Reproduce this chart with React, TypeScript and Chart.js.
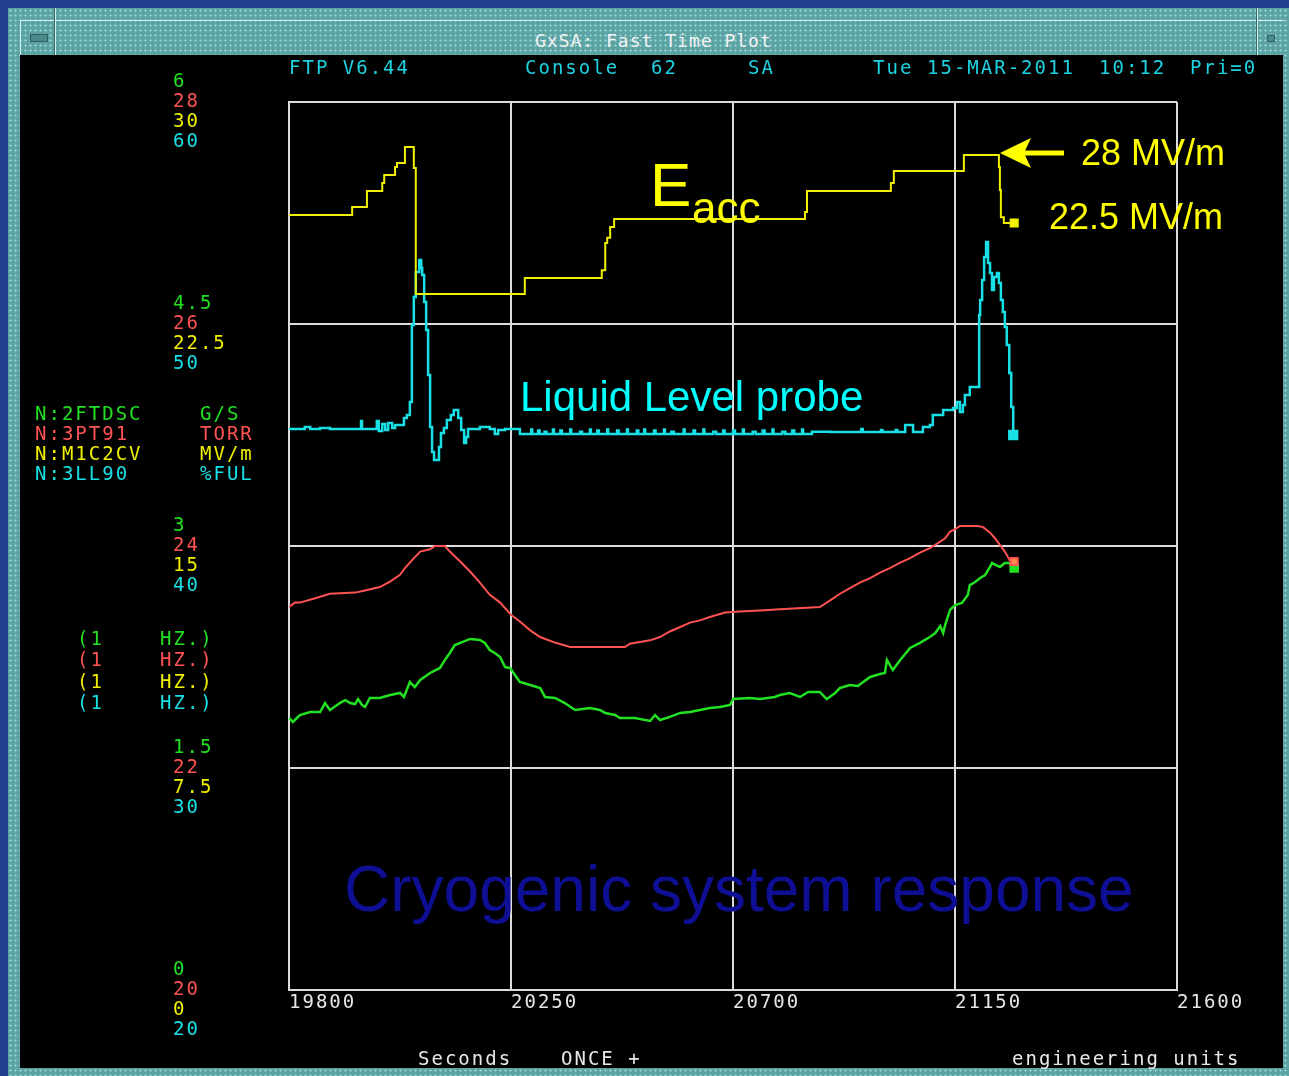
import React, { useEffect, useRef } from "react";
import { Chart, registerables } from "chart.js";

Chart.register(...registerables);

// ---------- DATA ----------
const timeTicks = [19800, 20250, 20700, 21150, 21600];

const greenTicks = ["6", "4.5", "3", "1.5", "0"];
const redTicks = ["28", "26", "24", "22", "20"];
const yellowTicks = ["30", "22.5", "15", "7.5", "0"];
const cyanTicks = ["60", "50", "40", "30", "20"];

const channelNames = ["N:2FTDSC", "N:3PT91", "N:M1C2CV", "N:3LL90"];
const channelUnits = ["G/S", "TORR", "MV/m", "%FUL"];

// Yellow: accelerating gradient, MV/m (0..30)
const eaccTime = [19800, 19928, 19958, 19989, 19993, 20015, 20019, 20035, 20053, 20057, 20278, 20434, 20441, 20445, 20451, 20459, 20846, 20850, 21020, 21026, 21168, 21239, 21241, 21243, 21249, 21270];
const eaccValue = [26.18, 26.45, 26.99, 27.26, 27.53, 27.8, 27.94, 28.48, 27.77, 23.51, 24.05, 24.32, 25.24, 25.41, 25.78, 26.05, 26.28, 26.99, 27.26, 27.67, 28.21, 27.8, 27.03, 26.11, 25.91, 25.91];

// Cyan: liquid level, %FUL (20..60)
const levelTime = [
  19800, 19822, 19832, 19843, 19863, 19883, 19944, 19946, 19948, 19976, 19978, 19982, 19989, 19995, 20001, 20009, 20015, 20025, 20033, 20039,
  20045, 20049, 20053, 20057, 20064, 20068, 20070, 20074, 20078, 20082, 20086, 20090, 20094, 20100, 20104, 20108, 20114, 20120, 20128, 20134,
  20143, 20149, 20155, 20159, 20163, 20187, 20207, 20217, 20224, 20238, 20264, 20268,
  20290, 20291, 20293, 20305, 20308, 20318, 20322, 20335, 20337, 20350, 20353, 20370, 20372, 20390, 20394, 20410, 20412, 20425, 20428, 20445,
  20447, 20465, 20468, 20485, 20487, 20505, 20508, 20520, 20522, 20540, 20543, 20560, 20562, 20575, 20580, 20600, 20602, 20620, 20623, 20640,
  20642, 20660, 20666, 20680, 20683, 20700, 20704, 20720, 20722, 20740, 20746, 20760, 20764, 20780, 20782, 20800, 20806, 20820, 20824, 20840,
  20842, 20860, 20870, 20897, 20960, 20963, 21000, 21003, 21030, 21033,
  21049, 21065, 21085, 21099, 21105, 21126, 21146, 21154, 21160, 21166, 21170, 21180, 21195, 21199, 21201, 21205, 21209, 21213, 21215, 21217,
  21221, 21225, 21229, 21235, 21239, 21243, 21247, 21251, 21255, 21260, 21264, 21268,
];
const levelValue = [
  45.27, 45.27, 45.36, 45.27, 45.32, 45.27, 45.27, 45.63, 45.27, 45.27, 45.63, 45.18, 45.5, 45.23, 45.54, 45.32, 45.45, 45.45, 45.77, 45.9,
  46.49, 49.95, 51.22, 52.34, 52.88, 52.52, 52.21, 50.99, 49.73, 47.7, 45.36, 44.23, 43.87, 43.87, 44.46, 45.09, 45.32, 45.68, 45.9, 46.13,
  45.77, 45.23, 44.64, 44.91, 45.27, 45.36, 45.27, 45.05, 45.23, 45.27, 45.27, 45.05,
  45.05, 45.25, 45.05, 45.2, 45.05, 45.15, 45.05, 45.25, 45.05, 45.2, 45.05, 45.25, 45.05, 45.15, 45.05, 45.25, 45.05, 45.2, 45.05, 45.25,
  45.05, 45.2, 45.05, 45.25, 45.05, 45.2, 45.05, 45.25, 45.05, 45.2, 45.05, 45.25, 45.05, 45.15, 45.05, 45.25, 45.05, 45.2, 45.05, 45.25,
  45.05, 45.15, 45.05, 45.2, 45.05, 45.2, 45.05, 45.25, 45.05, 45.15, 45.05, 45.2, 45.05, 45.25, 45.05, 45.15, 45.05, 45.2, 45.05, 45.25,
  45.05, 45.15, 45.15, 45.14, 45.27, 45.14, 45.23, 45.14, 45.23, 45.14,
  45.45, 45.14, 45.36, 45.45, 45.9, 46.13, 46.22, 46.49, 46.04, 46.35, 46.8, 47.16, 47.16, 50.41, 51.08, 51.98, 53.02, 53.69, 53.69, 52.75,
  52.3, 51.53, 52.12, 52.3, 51.85, 51.08, 50.54, 49.86, 49.05, 47.79, 46.26, 45.0,
];

// Red: pressure, TORR (20..28)
const pressureTime = [19800, 19812, 19822, 19853, 19883, 19934, 19954, 19984, 20005, 20025, 20035, 20049, 20066, 20086, 20096, 20116, 20126, 20147, 20167, 20187, 20207, 20228, 20250, 20268, 20289, 20309, 20339, 20370, 20481, 20491, 20532, 20552, 20572, 20593, 20613, 20633, 20653, 20684, 20714, 20755, 20795, 20876, 20897, 20917, 20937, 20957, 20978, 20998, 21018, 21039, 21059, 21079, 21099, 21120, 21130, 21140, 21150, 21160, 21196, 21207, 21221, 21231, 21241, 21251, 21261, 21270];
const pressureValue = [23.45, 23.49, 23.49, 23.53, 23.57, 23.58, 23.6, 23.63, 23.68, 23.74, 23.8, 23.87, 23.95, 23.97, 24.0, 24.0, 23.95, 23.86, 23.77, 23.67, 23.56, 23.49, 23.38, 23.32, 23.24, 23.18, 23.13, 23.09, 23.09, 23.12, 23.15, 23.18, 23.23, 23.27, 23.31, 23.33, 23.36, 23.4, 23.41, 23.42, 23.43, 23.45, 23.51, 23.57, 23.62, 23.67, 23.71, 23.76, 23.8, 23.85, 23.89, 23.94, 23.98, 24.04, 24.07, 24.13, 24.15, 24.18, 24.18, 24.17, 24.12, 24.07, 24.01, 23.95, 23.87, 23.86];

// Green: flow, G/S (0..6)
const flowTime = [19800, 19808, 19822, 19843, 19863, 19873, 19883, 19903, 19914, 19924, 19934, 19940, 19948, 19954, 19964, 19984, 20005, 20025, 20033, 20045, 20055, 20066, 20086, 20106, 20116, 20126, 20136, 20151, 20167, 20187, 20197, 20207, 20217, 20228, 20238, 20248, 20258, 20268, 20289, 20309, 20319, 20339, 20359, 20380, 20410, 20430, 20441, 20461, 20471, 20501, 20532, 20542, 20552, 20572, 20593, 20613, 20633, 20653, 20674, 20694, 20700, 20734, 20755, 20785, 20795, 20815, 20836, 20852, 20876, 20890, 20907, 20917, 20937, 20953, 20978, 20998, 21008, 21012, 21024, 21039, 21059, 21079, 21099, 21110, 21120, 21126, 21130, 21140, 21150, 21164, 21176, 21180, 21191, 21201, 21211, 21221, 21225, 21241, 21251, 21261, 21270];
const flowValue = [1.838, 1.811, 1.858, 1.878, 1.878, 1.939, 1.892, 1.939, 1.959, 1.939, 1.932, 1.966, 1.926, 1.912, 1.973, 1.973, 1.993, 2.007, 1.98, 2.081, 2.047, 2.095, 2.142, 2.176, 2.23, 2.277, 2.331, 2.351, 2.372, 2.365, 2.345, 2.297, 2.277, 2.25, 2.182, 2.176, 2.128, 2.081, 2.061, 2.041, 1.98, 1.973, 1.939, 1.892, 1.905, 1.892, 1.872, 1.858, 1.838, 1.838, 1.818, 1.858, 1.824, 1.845, 1.872, 1.878, 1.892, 1.905, 1.912, 1.926, 1.966, 1.973, 1.966, 1.98, 1.993, 2.007, 1.98, 2.014, 2.014, 1.966, 2.007, 2.041, 2.061, 2.054, 2.115, 2.135, 2.142, 2.23, 2.162, 2.23, 2.311, 2.345, 2.385, 2.412, 2.459, 2.412, 2.466, 2.568, 2.601, 2.615, 2.669, 2.736, 2.757, 2.784, 2.804, 2.858, 2.885, 2.858, 2.885, 2.885, 2.851];

// ---------- STYLE ----------
const GREEN = "#22e022";
const RED = "#ff5252";
const YELLOW = "#f0f000";
const CYAN = "#18e0e6";
const TXT_CYAN = "#1fd2e2";
const GRID = "#dcdcdc";
const MONO = "'DejaVu Sans Mono', monospace";
const SANS = "'Liberation Sans', Arial, sans-serif";

const pts = (t: number[], v: number[]) => t.map((x, i) => ({ x, y: v[i] }));
const lastOnly = (n: number, r: number) => (ctx: any) => (ctx.dataIndex === n - 1 ? r : 0);

function Txt(props: { x: number; base: number; size: number; color: string; font?: string; spacing?: string; children: React.ReactNode }) {
  const { x, base, size, color, font = MONO, spacing = "2px", children } = props;
  return (
    <div
      style={{
        position: "absolute",
        left: x,
        top: base - 0.846 * size,
        fontSize: size,
        lineHeight: `${size}px`,
        fontFamily: font,
        color,
        letterSpacing: spacing,
        whiteSpace: "pre",
      }}
    >
      {children}
    </div>
  );
}

export default function App() {
  const ref = useRef<HTMLCanvasElement | null>(null);

  useEffect(() => {
    if (!ref.current) return;
    const spacingPlugin = {
      id: "spacing",
      beforeDraw(chart: any) {
        chart.ctx.letterSpacing = "2px";
      },
    };
    const chart = new Chart(ref.current, {
      type: "line",
      data: {
        datasets: [
          {
            label: channelNames[2],
            data: pts(eaccTime, eaccValue),
            yAxisID: "yY",
            borderColor: YELLOW,
            backgroundColor: YELLOW,
            borderWidth: 2,
            stepped: true,
            pointStyle: "rect",
            pointRadius: lastOnly(eaccTime.length, 5),
          },
          {
            label: channelNames[3],
            data: pts(levelTime, levelValue),
            yAxisID: "yC",
            borderColor: CYAN,
            backgroundColor: CYAN,
            borderWidth: 2.5,
            stepped: true,
            pointStyle: "rect",
            pointRadius: lastOnly(levelTime.length, 5.5),
          },
          {
            label: channelNames[1],
            data: pts(pressureTime, pressureValue),
            yAxisID: "yR",
            borderColor: RED,
            backgroundColor: "#ff8a50",
            borderWidth: 2,
            pointStyle: "rect",
            pointRadius: lastOnly(pressureTime.length, 5),
          },
          {
            label: channelNames[0],
            data: pts(flowTime, flowValue),
            yAxisID: "yG",
            borderColor: GREEN,
            backgroundColor: GREEN,
            borderWidth: 2.5,
            pointStyle: "rect",
            pointRadius: lastOnly(flowTime.length, 5),
          },
        ],
      },
      options: {
        responsive: false,
        animation: false,
        events: [],
        layout: { padding: { left: 289, top: 102, right: 112, bottom: 0 } },
        plugins: { legend: { display: false }, tooltip: { enabled: false } },
        scales: {
          x: {
            type: "linear",
            position: "bottom",
            min: 19800,
            max: 21600,
            afterBuildTicks: (s: any) => {
              s.ticks = timeTicks.map((value) => ({ value }));
            },
            afterFit: (s: any) => {
              s.height = 86;
            },
            ticks: {
              color: "#e6e6e6",
              font: { family: "DejaVu Sans Mono", size: 19 },
              padding: 2,
              align: "start",
              maxRotation: 0,
              autoSkip: false,
              callback: (v: any) => String(v),
            },
            grid: { color: GRID, lineWidth: 2, drawTicks: false },
            border: { color: GRID, width: 2 },
          },
          yG: {
            position: "left",
            min: 0,
            max: 6,
            afterFit: (s: any) => {
              s.width = 0;
            },
            ticks: { display: false, stepSize: 1.5 },
            grid: { color: GRID, lineWidth: 2, drawTicks: false },
            border: { color: GRID, width: 2 },
          },
          yR: { display: false, min: 20, max: 28 },
          yY: { display: false, min: 0, max: 30 },
          yC: { display: false, min: 20, max: 60 },
        },
      } as any,
      plugins: [spacingPlugin],
    });
    return () => chart.destroy();
  }, []);

  const seriesColors = [GREEN, RED, YELLOW, CYAN];
  const tickSets = [greenTicks, redTicks, yellowTicks, cyanTicks];

  return (
    <div style={{ position: "fixed", left: 0, top: 0, width: 1289, height: 1076, background: "#223e90", overflow: "hidden" }}>
      {/* teal window frame */}
      <div
        style={{
          position: "absolute",
          left: 8,
          top: 8,
          width: 1281,
          height: 1068,
          backgroundColor: "#5ea3a3",
          backgroundImage: "radial-gradient(#8fd3d3 0.9px, transparent 1.3px)",
          backgroundSize: "5px 5px",
        }}
      />
      <div style={{ position: "absolute", left: 20, top: 20, width: 1263, height: 35, borderTop: "1px solid #d6f0f0", borderLeft: "1px solid #d6f0f0" }} />
      <div style={{ position: "absolute", left: 54, top: 8, width: 1, height: 47, background: "#2f6a6a" }} />
      <div style={{ position: "absolute", left: 55, top: 8, width: 1, height: 47, background: "#d6f0f0" }} />
      <div style={{ position: "absolute", left: 1256, top: 8, width: 1, height: 47, background: "#2f6a6a" }} />
      <div style={{ position: "absolute", left: 1257, top: 8, width: 1, height: 47, background: "#d6f0f0" }} />
      <div style={{ position: "absolute", left: 30, top: 34, width: 16, height: 6, background: "#4a8a8a", border: "1px solid #2e6060" }} />
      <div style={{ position: "absolute", left: 1267, top: 35, width: 6, height: 5, background: "#4a8a8a", border: "1px solid #2e6060" }} />
      <Txt x={535} base={47} size={18} color="#f2f2f2" spacing="1px">GxSA: Fast Time Plot</Txt>

      {/* black display */}
      <div style={{ position: "absolute", left: 20, top: 55, width: 1263, height: 1013, background: "#000" }} />

      <canvas ref={ref} width={1289} height={1076} style={{ position: "absolute", left: 0, top: 0, width: 1289, height: 1076 }} />

      {/* header line */}
      <Txt x={289} base={74} size={19} color={TXT_CYAN}>FTP V6.44</Txt>
      <Txt x={525} base={74} size={19} color={TXT_CYAN}>Console</Txt>
      <Txt x={651} base={74} size={19} color={TXT_CYAN}>62</Txt>
      <Txt x={748} base={74} size={19} color={TXT_CYAN}>SA</Txt>
      <Txt x={873} base={74} size={19} color={TXT_CYAN}>Tue</Txt>
      <Txt x={927} base={74} size={19} color={TXT_CYAN}>15-MAR-2011</Txt>
      <Txt x={1099} base={74} size={19} color={TXT_CYAN}>10:12</Txt>
      <Txt x={1190} base={74} size={19} color={TXT_CYAN}>Pri=0</Txt>

      {/* stacked left tick labels */}
      {[0, 1, 2, 3, 4].map((g) =>
        tickSets.map((set, s) => (
          <Txt key={`t${g}-${s}`} x={173} base={87 + 222 * g + 20 * s} size={19} color={seriesColors[s]}>
            {set[g]}
          </Txt>
        ))
      )}

      {/* channel legend */}
      {channelNames.map((n, i) => (
        <React.Fragment key={n}>
          <Txt x={35} base={420 + 20 * i} size={19} color={seriesColors[i]}>{n}</Txt>
          <Txt x={200} base={420 + 20 * i} size={19} color={seriesColors[i]}>{channelUnits[i]}</Txt>
          <Txt x={77} base={645 + 21.5 * i} size={19} color={seriesColors[i]}>(1</Txt>
          <Txt x={160} base={645 + 21.5 * i} size={19} color={seriesColors[i]}>HZ.)</Txt>
        </React.Fragment>
      ))}

      {/* bottom line */}
      <Txt x={418} base={1065} size={19} color="#e8e8e8">Seconds</Txt>
      <Txt x={561} base={1065} size={19} color="#e8e8e8">ONCE +</Txt>
      <Txt x={1012} base={1065} size={19} color="#e8e8e8">engineering units</Txt>

      {/* annotations */}
      <Txt x={650} base={206} size={62} color="#ffff00" font={SANS} spacing="0px">E</Txt>
      <Txt x={692} base={223} size={44} color="#ffff00" font={SANS} spacing="0px">acc</Txt>
      <Txt x={1081} base={165} size={36} color="#ffff00" font={SANS} spacing="0px">28 MV/m</Txt>
      <Txt x={1049} base={229} size={36} color="#ffff00" font={SANS} spacing="0px">22.5 MV/m</Txt>
      <Txt x={520} base={412} size={42} color="#00ffff" font={SANS} spacing="0px">Liquid Level probe</Txt>
      <Txt x={344} base={911} size={64} color="#0f0f96" font={SANS} spacing="0px">Cryogenic system response</Txt>
      <svg width={1289} height={1076} style={{ position: "absolute", left: 0, top: 0, pointerEvents: "none" }}>
        <rect x={1024} y={150.5} width={40} height={5} fill="#ffff00" />
        <polygon points="1000,153 1031,138 1024,153 1031,168" fill="#ffff00" />
      </svg>
    </div>
  );
}
